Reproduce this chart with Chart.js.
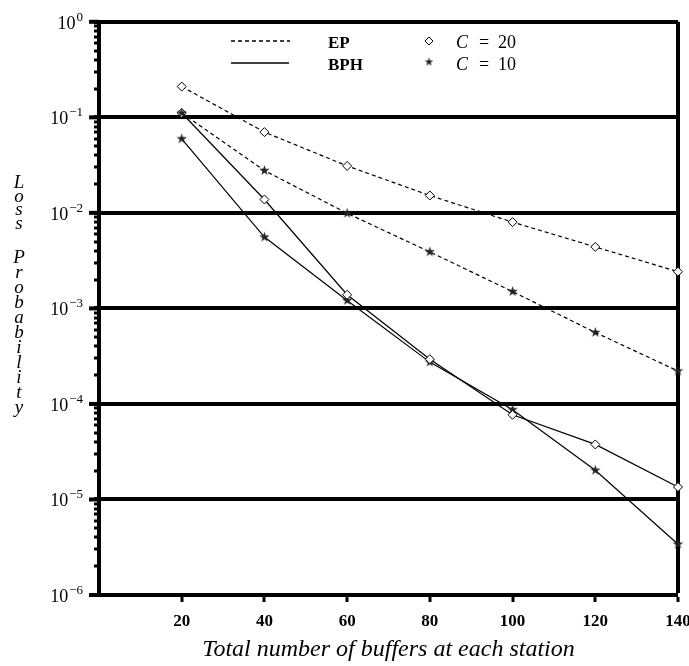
<!DOCTYPE html>
<html><head><meta charset="utf-8">
<script src="https://cdn.jsdelivr.net/npm/chart.js@4"></script>
<style>html,body{margin:0;padding:0;background:#fff}#wrap{width:689px;height:666px;position:relative}</style>
</head><body><div id="wrap"><canvas id="c"></canvas></div>
<script>
// ---- data ----
const buffers = [20, 40, 60, 80, 100, 120, 140];
const epC20  = [0.21, 0.070, 0.031, 0.0152, 0.0080, 0.0044, 0.00242];
const epC10  = [0.111, 0.0277, 0.0099, 0.0039, 0.0015, 0.00056, 0.000221];
const bphC20 = [0.111, 0.0138, 0.00139, 0.000294, 0.000077, 0.0000377, 0.0000135];
const bphC10 = [0.0595, 0.00558, 0.00121, 0.000274, 0.000087, 0.0000202, 0.0000034];
const xTickValues = [20, 40, 60, 80, 100, 120, 140];
const yExponents = [-6, -5, -4, -3, -2, -1, 0];
const xTitle = 'Total number of buffers at each station';
const yTitleWords = ['Loss', 'Probability'];
const legendLines = ['EP', 'BPH'];
const legendMarkers = ['20', '10'];

const SERIF = '"Liberation Serif", "DejaVu Serif", serif';

function makeStar(r){
  const s = Math.ceil(r*2+2);
  const c = document.createElement('canvas'); c.width = s; c.height = s;
  const g = c.getContext('2d'); g.fillStyle = '#222'; g.beginPath();
  for (let i=0;i<10;i++){ const a=-Math.PI/2+i*Math.PI/5; const rr = i%2 ? r*0.38 : r; g.lineTo(s/2+rr*Math.cos(a), s/2+rr*Math.sin(a)); }
  g.closePath(); g.fill(); return c;
}
const starImg = makeStar(5.5);
const starSmall = makeStar(4.5);

function pts(arr){ return buffers.map((x,i)=>({x, y: arr[i]})); }
function ds(label, arr, dashed, marker){
  return {
    label, data: pts(arr), borderColor:'#000', borderWidth:1.2, borderDash: dashed ? [4,3] : [],
    pointStyle: marker==='diamond' ? 'rectRot' : starImg,
    pointRadius: marker==='diamond' ? 4.5 : 5, pointBorderWidth:1, pointBackgroundColor:'#fff', pointBorderColor:'#000',
    fill:false, tension:0, clip:false
  };
}

const overlay = {
  id:'overlay',
  afterDraw(chart){
    const ctx = chart.ctx; const ca = chart.chartArea; const ys = chart.scales.y;
    ctx.save();
    ctx.strokeStyle='#000'; ctx.fillStyle='#000';
    // longer major ticks and decade labels on y axis
    ctx.lineWidth=4;
    yExponents.forEach(e=>{
      const py = ys.getPixelForValue(Math.pow(10,e));
      ctx.beginPath(); ctx.moveTo(ca.left-10, py); ctx.lineTo(ca.left, py); ctx.stroke();
      const ex = String(e).replace('-', '\u2212');
      ctx.textBaseline='alphabetic'; ctx.textAlign='right';
      ctx.font = '13px '+SERIF;
      const ew = ctx.measureText(ex).width;
      ctx.fillText(ex, ca.left-16, py-1);
      ctx.font = '18px '+SERIF;
      ctx.fillText('10', ca.left-17-ew, py+7);
    });
    // y title stacked letters
    ctx.font = 'italic 19px '+SERIF; ctx.textAlign='center'; ctx.textBaseline='alphabetic';
    const starts = [188, 263], pitches = [13.5, 15];
    yTitleWords.forEach((w, wi)=>{
      [...w].forEach((ch, i)=> ctx.fillText(ch, 19, starts[wi] + i*pitches[wi]));
    });
    // legend
    ctx.lineWidth = 1.3;
    const rows = [41, 63];
    ctx.setLineDash([4,3]); ctx.beginPath(); ctx.moveTo(231, rows[0]); ctx.lineTo(290, rows[0]); ctx.stroke();
    ctx.setLineDash([]); ctx.beginPath(); ctx.moveTo(231, rows[1]); ctx.lineTo(289, rows[1]); ctx.stroke();
    ctx.textAlign='left';
    ctx.font = 'bold 17px '+SERIF;
    ctx.fillText(legendLines[0], 328, rows[0]+7);
    ctx.fillText(legendLines[1], 328, rows[1]+7);
    ctx.lineWidth=1;
    ctx.beginPath(); const dx=429, dy=rows[0]; ctx.moveTo(dx, dy-4); ctx.lineTo(dx+4, dy); ctx.lineTo(dx, dy+4); ctx.lineTo(dx-4, dy); ctx.closePath(); ctx.stroke();
    ctx.drawImage(starSmall, 429 - starSmall.width/2, rows[1] - starSmall.height/2 - 1);
    rows.forEach((ry,i)=>{
      ctx.font = 'italic 18px '+SERIF; ctx.fillText('C', 456, ry+7);
      ctx.font = '18px '+SERIF; ctx.fillText('=', 479, ry+7); ctx.fillText(legendMarkers[i], 498, ry+7);
    });
    ctx.restore();
  }
};

new Chart(document.getElementById('c'), {
  type:'line',
  data:{ datasets:[
    ds('EP C=20', epC20, true, 'diamond'),
    ds('EP C=10', epC10, true, 'star'),
    ds('BPH C=20', bphC20, false, 'diamond'),
    ds('BPH C=10', bphC10, false, 'star')
  ]},
  options:{
    responsive:true, maintainAspectRatio:false, animation:false,
    layout:{ padding:{ top:17, right:11, bottom:0, left:0 } },
    plugins:{ legend:{display:false}, tooltip:{enabled:false} },
    scales:{
      x:{
        type:'linear', min:0, max:140,
        afterBuildTicks(scale){ scale.ticks = xTickValues.map(v=>({value:v})); },
        afterFit(scale){ scale.height = 71; scale.paddingRight = 0; scale.paddingLeft = 0; },
        border:{ display:true, width:4, color:'#000' },
        grid:{ color:'#000', lineWidth: c => (c.tick && c.tick.value===140) ? 4 : 0, tickWidth:3, tickLength:7, tickColor:'#000', drawTicks:true },
        ticks:{ color:'#000', font:{ family:SERIF, size:17, weight:'bold' }, padding:9, maxRotation:0, autoSkip:false },
        title:{ display:true, text:xTitle, color:'#000', font:{ family:SERIF, size:24, style:'italic' }, padding:{ top:0, bottom:2 } }
      },
      y:{
        type:'logarithmic', min:1e-6, max:1,
        afterBuildTicks(scale){
          const t=[];
          yExponents.forEach(e=>{
            if (e===0){ t.push({value:1, major:true}); return; }
            for (let s=1;s<=9;s++) t.push({value: s*Math.pow(10,e), major: s===1});
          });
          scale.ticks = t;
        },
        afterFit(scale){ scale.width = 99; },
        border:{ display:true, width:4, color:'#000' },
        grid:{ color:'#000', lineWidth: c => (c.tick && c.tick.major) ? 4 : 0, tickWidth: c => (c.tick && c.tick.major) ? 4 : 3, tickLength:5, tickColor:'#000' },
        ticks:{ color:'#000', font:{ family:SERIF, size:18 }, padding:11, autoSkip:false, callback(){ return ''; } },
        title:{ display:false }
      }
    }
  },
  plugins:[overlay]
});
</script></body></html>
